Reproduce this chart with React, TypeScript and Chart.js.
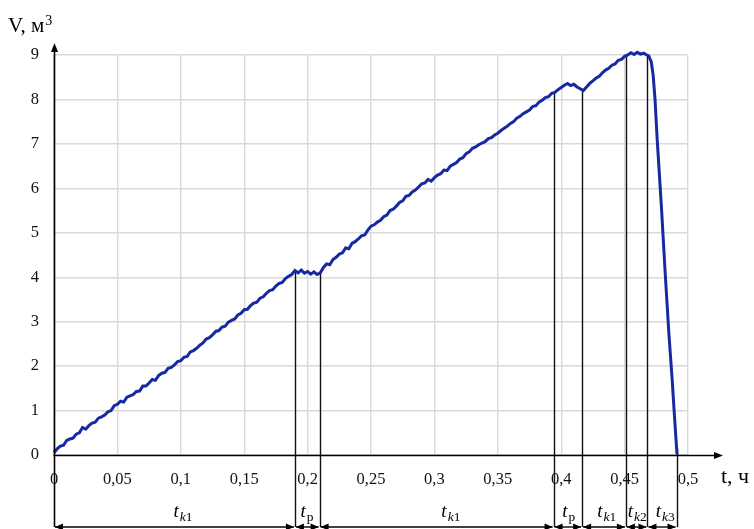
import React, { useEffect, useRef } from 'react';
import { Chart, registerables } from 'chart.js';

Chart.register(...registerables);

// ---- data ----
const timeH = [
  0.0, 0.0025, 0.005, 0.0075, 0.01, 0.0125, 0.015, 0.0175, 0.02, 0.0225,
  0.025, 0.0275, 0.03, 0.0325, 0.035, 0.0375, 0.04, 0.0425, 0.045, 0.0475,
  0.05, 0.0525, 0.055, 0.0575, 0.06, 0.0625, 0.065, 0.0675, 0.07, 0.0725,
  0.075, 0.0775, 0.08, 0.0825, 0.085, 0.0875, 0.09, 0.0925, 0.095, 0.0975,
  0.1, 0.1025, 0.105, 0.1075, 0.11, 0.1125, 0.115, 0.1175, 0.12, 0.1225,
  0.125, 0.1275, 0.13, 0.1325, 0.135, 0.1375, 0.14, 0.1425, 0.145, 0.1475,
  0.15, 0.1525, 0.155, 0.1575, 0.16, 0.1625, 0.165, 0.1675, 0.17, 0.1725,
  0.175, 0.1775, 0.18, 0.1825, 0.185, 0.1875, 0.19,
  0.1925, 0.195, 0.1975, 0.2, 0.2025, 0.205, 0.2075, 0.21,
  0.2125, 0.215, 0.2175, 0.22, 0.2225, 0.225, 0.2275, 0.23, 0.2325, 0.235,
  0.2375, 0.24, 0.2425, 0.245, 0.2475, 0.25, 0.2525, 0.255, 0.2575, 0.26,
  0.2625, 0.265, 0.2675, 0.27, 0.2725, 0.275, 0.2775, 0.28, 0.2825, 0.285,
  0.2875, 0.29, 0.2925, 0.295, 0.2975, 0.3, 0.3025, 0.305, 0.3075, 0.31,
  0.3125, 0.315, 0.3175, 0.32, 0.3225, 0.325, 0.3275, 0.33, 0.3325, 0.335,
  0.3375, 0.34, 0.3425, 0.345, 0.3475, 0.35, 0.3525, 0.355, 0.3575, 0.36,
  0.3625, 0.365, 0.3675, 0.37, 0.3725, 0.375, 0.3775, 0.38, 0.3825, 0.385,
  0.3875, 0.39, 0.3925, 0.395,
  0.3975, 0.4, 0.4025, 0.405, 0.4075, 0.41, 0.4125, 0.415, 0.4175,
  0.42, 0.4225, 0.425, 0.4275, 0.43, 0.4325, 0.435, 0.4375, 0.44, 0.4425,
  0.445, 0.4475, 0.45,
  0.4525, 0.455, 0.4575, 0.46, 0.4625, 0.465, 0.4675, 0.469,
  0.471, 0.4725, 0.474, 0.4757, 0.479, 0.482, 0.485, 0.4875, 0.4895, 0.4913,
];

const volumeM3 = [
  0.05, 0.14, 0.2, 0.22, 0.33, 0.36, 0.38, 0.47, 0.5, 0.62,
  0.58, 0.66, 0.72, 0.74, 0.83, 0.86, 0.9, 0.97, 1.0, 1.11,
  1.14, 1.21, 1.19, 1.3, 1.33, 1.36, 1.43, 1.44, 1.55, 1.55,
  1.62, 1.7, 1.68, 1.79, 1.84, 1.86, 1.95, 1.97, 2.03, 2.1,
  2.12, 2.2, 2.22, 2.32, 2.35, 2.4, 2.47, 2.52, 2.61, 2.64,
  2.7, 2.78, 2.8, 2.88, 2.9, 2.99, 3.03, 3.06, 3.15, 3.19,
  3.27, 3.28, 3.36, 3.42, 3.44, 3.53, 3.56, 3.64, 3.7, 3.72,
  3.8, 3.86, 3.88, 3.97, 4.02, 4.06, 4.15,
  4.1, 4.16, 4.09, 4.13, 4.07, 4.12, 4.06, 4.1,
  4.22, 4.3, 4.28, 4.4, 4.45, 4.52, 4.55, 4.66, 4.64, 4.76,
  4.8, 4.86, 4.93, 4.95, 5.06, 5.15, 5.18, 5.24, 5.28, 5.36,
  5.4, 5.5, 5.53, 5.6, 5.68, 5.72, 5.82, 5.84, 5.92, 5.96,
  6.03, 6.1, 6.12, 6.2, 6.16, 6.24, 6.3, 6.33, 6.41, 6.4,
  6.5, 6.54, 6.58, 6.66, 6.69, 6.78, 6.82, 6.9, 6.93, 6.98,
  7.02, 7.05, 7.12, 7.14, 7.2, 7.24, 7.3, 7.35, 7.4, 7.46,
  7.5, 7.58, 7.62, 7.68, 7.72, 7.76, 7.84, 7.86, 7.94, 7.98,
  8.04, 8.06, 8.14, 8.16,
  8.22, 8.27, 8.32, 8.36, 8.31, 8.34, 8.28, 8.24, 8.2,
  8.28, 8.36, 8.42, 8.48, 8.52, 8.6, 8.66, 8.7, 8.77, 8.8,
  8.88, 8.9, 8.97,
  9.0, 9.05, 9.01, 9.06, 9.02, 9.04, 9.0, 8.98,
  8.85, 8.55, 8.0, 7.1, 5.6, 4.1, 2.7, 1.7, 0.8, 0.02,
];

const xTickValues = [0, 0.05, 0.1, 0.15, 0.2, 0.25, 0.3, 0.35, 0.4, 0.45, 0.5];
const xTickLabels = ['0', '0,05', '0,1', '0,15', '0,2', '0,25', '0,3', '0,35', '0,4', '0,45', '0,5'];
const yTickValues = [0, 1, 2, 3, 4, 5, 6, 7, 8, 9];
const yTickLabels = ['0', '1', '2', '3', '4', '5', '6', '7', '8', '9'];

// phase boundaries (h) and the phase names between them
const phaseBoundaries = [0, 0.19, 0.2095, 0.394, 0.4165, 0.451, 0.468, 0.491];
const phaseSubscripts = ['k1', 'р', 'k1', 'р', 'k1', 'k2', 'k3'];
const phaseLabelAt = [0.1017, 0.1995, 0.313, 0.406, 0.436, 0.46, 0.482];

const SERIF = "'Liberation Serif', 'Times New Roman', 'DejaVu Serif', serif";

function curveAt(t: number): number {
  for (let i = 1; i < timeH.length; i++) {
    if (timeH[i] >= t) {
      const a = timeH[i - 1], b = timeH[i];
      const f = b === a ? 0 : (t - a) / (b - a);
      return volumeM3[i - 1] + f * (volumeM3[i] - volumeM3[i - 1]);
    }
  }
  return volumeM3[volumeM3.length - 1];
}

const decorPlugin = {
  id: 'decor',
  beforeDatasetsDraw(chart: any) {
    const ctx = chart.ctx as CanvasRenderingContext2D;
    const xs = chart.scales.x, ys = chart.scales.y;
    const bottom = chart.height - 2;
    ctx.save();
    ctx.strokeStyle = '#111';
    ctx.lineWidth = 1.4;
    for (let i = 1; i < phaseBoundaries.length; i++) {
      const t = phaseBoundaries[i];
      const px = Math.round(xs.getPixelForValue(t)) + 0.5;
      const py = ys.getPixelForValue(curveAt(t));
      ctx.beginPath();
      ctx.moveTo(px, py);
      ctx.lineTo(px, bottom);
      ctx.stroke();
    }
    ctx.restore();
  },
  afterDraw(chart: any) {
    const ctx = chart.ctx as CanvasRenderingContext2D;
    const xs = chart.scales.x, ys = chart.scales.y;
    const area = chart.chartArea;
    const x0 = Math.round(xs.getPixelForValue(0)) + 0.5;
    const y0 = Math.round(ys.getPixelForValue(0)) + 0.5;
    const bottom = chart.height - 2;
    ctx.save();
    ctx.strokeStyle = '#000';
    ctx.fillStyle = '#000';
    ctx.lineWidth = 1.6;
    // y axis with arrow
    const yTip = area.top - 12;
    ctx.beginPath();
    ctx.moveTo(x0, bottom);
    ctx.lineTo(x0, yTip + 6);
    ctx.stroke();
    ctx.beginPath();
    ctx.moveTo(x0, yTip);
    ctx.lineTo(x0 - 3.5, yTip + 9);
    ctx.lineTo(x0 + 3.5, yTip + 9);
    ctx.closePath();
    ctx.fill();
    // x axis with arrow
    const xTip = area.right + 35;
    ctx.beginPath();
    ctx.moveTo(x0 - 1, y0);
    ctx.lineTo(xTip - 6, y0);
    ctx.stroke();
    ctx.beginPath();
    ctx.moveTo(xTip, y0);
    ctx.lineTo(xTip - 9, y0 - 3.5);
    ctx.lineTo(xTip - 9, y0 + 3.5);
    ctx.closePath();
    ctx.fill();

    // double arrows between phase boundaries
    ctx.lineWidth = 1.4;
    const ay = bottom;
    for (let i = 0; i < phaseBoundaries.length - 1; i++) {
      const a = xs.getPixelForValue(phaseBoundaries[i]);
      const b = xs.getPixelForValue(phaseBoundaries[i + 1]);
      ctx.beginPath();
      ctx.moveTo(a + 1, ay);
      ctx.lineTo(b - 1, ay);
      ctx.stroke();
      ctx.beginPath();
      ctx.moveTo(a + 1, ay);
      ctx.lineTo(a + 9, ay - 3.5);
      ctx.lineTo(a + 9, ay + 3.5);
      ctx.closePath();
      ctx.fill();
      ctx.beginPath();
      ctx.moveTo(b - 1, ay);
      ctx.lineTo(b - 9, ay - 3.5);
      ctx.lineTo(b - 9, ay + 3.5);
      ctx.closePath();
      ctx.fill();
    }

    // phase labels t_{..}
    ctx.textBaseline = 'alphabetic';
    ctx.textAlign = 'left';
    for (let i = 0; i < phaseSubscripts.length; i++) {
      const cx = xs.getPixelForValue(phaseLabelAt[i]);
      const sub = phaseSubscripts[i];
      ctx.font = `italic 19px ${SERIF}`;
      const wt = ctx.measureText('t').width;
      const parts: { s: string; font: string; w: number }[] = [];
      let ws = 0;
      for (const ch of sub) {
        const font = /[a-z]/.test(ch) ? `italic 13.5px ${SERIF}` : `13.5px ${SERIF}`;
        ctx.font = font;
        const w = ctx.measureText(ch).width;
        parts.push({ s: ch, font, w });
        ws += w;
      }
      let x = cx - (wt + ws + 1) / 2;
      ctx.font = `italic 19px ${SERIF}`;
      ctx.fillText('t', x, 517);
      x += wt + 1;
      for (const p of parts) {
        ctx.font = p.font;
        ctx.fillText(p.s, x, 521);
        x += p.w;
      }
    }

    // axis titles
    ctx.font = `21px ${SERIF}`;
    ctx.fillText('V, м', 8, 32);
    const wv = ctx.measureText('V, м').width;
    ctx.font = `14px ${SERIF}`;
    ctx.fillText('3', 8 + wv + 1, 25);
    ctx.font = `22px ${SERIF}`;
    ctx.fillText('t, ч', 721, 483);
    ctx.restore();
  },
};

export default function App() {
  const ref = useRef<HTMLCanvasElement | null>(null);
  useEffect(() => {
    document.body.style.margin = '0';
    const canvas = ref.current;
    if (!canvas) return;
    const chart = new Chart(canvas, {
      type: 'line',
      data: {
        datasets: [
          {
            data: timeH.map((t, i) => ({ x: t, y: volumeM3[i] })),
            borderColor: '#1529a0',
            borderWidth: 3,
            pointRadius: 0,
            tension: 0,
            fill: false,
            clip: 6,
          } as any,
        ],
      },
      options: {
        animation: false,
        responsive: false,
        devicePixelRatio: 1,
        layout: { padding: { left: 0, right: 66, top: 55, bottom: 0 } },
        plugins: { legend: { display: false }, tooltip: { enabled: false } },
        scales: {
          x: {
            type: 'linear',
            min: 0,
            max: 0.5,
            afterBuildTicks: (s: any) => {
              s.ticks = xTickValues.map((v) => ({ value: v }));
            },
            afterFit: (s: any) => {
              s.height = 74;
            },
            ticks: {
              padding: 15,
              color: '#111',
              font: { family: SERIF, size: 16.5 },
              maxRotation: 0,
              autoSkip: false,
              callback: (_v: any, i: number) => xTickLabels[i],
            },
            grid: { color: '#dadada', lineWidth: 1.4, drawTicks: false },
            border: { display: false },
          },
          y: {
            type: 'linear',
            min: 0,
            max: 9,
            afterBuildTicks: (s: any) => {
              s.ticks = yTickValues.map((v) => ({ value: v }));
            },
            afterFit: (s: any) => {
              s.width = 54;
            },
            ticks: {
              padding: 15,
              color: '#111',
              font: { family: SERIF, size: 16.5 },
              autoSkip: false,
              callback: (_v: any, i: number) => yTickLabels[i],
            },
            grid: { color: '#dadada', lineWidth: 1.4, drawTicks: false },
            border: { display: false },
          },
        },
      } as any,
      plugins: [decorPlugin],
    });
    return () => chart.destroy();
  }, []);
  return (
    <div style={{ width: 754, height: 529, background: '#fff' }}>
      <canvas ref={ref} width={754} height={529} style={{ display: 'block' }} />
    </div>
  );
}
